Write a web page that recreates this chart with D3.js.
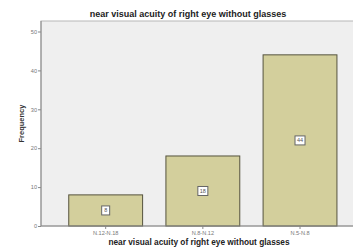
<!DOCTYPE html>
<meta charset="utf-8">
<style>
body {
  margin: 0;
  background: #fff;
  font-family: Arial, "Liberation Sans", sans-serif;
}
.bar {
  fill: #d3cf9c;
  stroke: #55533e;
  stroke-width: 1;
}
.tick text {
  fill: #777;
  font-size: 5.6px;
}
.tick line, .domain {
  stroke: #888;
}
</style>
<body>
<script src="https://cdn.jsdelivr.net/npm/d3@7"></script>
<script>

var categories = ["N.12-N.18", "N.8-N.12", "N.5-N.8"];
var counts = [8, 18, 44];
var yTicks = [0, 10, 20, 30, 40, 50];

var width = 353,
    height = 247;

var mLeft = 41, mTop = 21, mRight = 353, mBottom = 226;

var svg = d3.select("body").append("svg")
    .attr("width", width)
    .attr("height", height);

var x = d3.scaleBand()
    .domain(categories)
    .range([mLeft, 350])
    .paddingInner(0.24)
    .paddingOuter(0.21)
    .align(0.68);

var y = d3.scaleLinear()
    .domain([0, 50])
    .range([mBottom, 31.5]);

// plot background
svg.append("rect")
    .attr("x", mLeft)
    .attr("y", mTop)
    .attr("width", mRight - mLeft + 2)
    .attr("height", mBottom - mTop)
    .attr("fill", "#efefef")
    .attr("stroke", "#b8b8b8")
    .attr("stroke-width", 1);

svg.selectAll(".bar")
    .data(counts)
  .enter().append("rect")
    .attr("class", "bar")
    .attr("x", function(d, i) { return x(categories[i]); })
    .attr("y", function(d) { return y(d); })
    .attr("width", x.bandwidth())
    .attr("height", function(d) { return y(0) - y(d); });

// value labels in little boxes
var lab = svg.selectAll(".lab")
    .data(counts)
  .enter().append("g")
    .attr("transform", function(d, i) {
      return "translate(" + (x(categories[i]) + x.bandwidth() / 2) + "," + ((y(d) + y(0)) / 2) + ")";
    });

lab.append("rect")
    .attr("x", function(d) { return d < 10 ? -4 : -5; })
    .attr("y", -4.5)
    .attr("width", function(d) { return d < 10 ? 8 : 10; })
    .attr("height", 9)
    .attr("fill", "#fff")
    .attr("stroke", "#666")
    .attr("stroke-width", 1);

lab.append("text")
    .attr("text-anchor", "middle")
    .attr("dy", "0.35em")
    .attr("font-size", 5.5)
    .attr("fill", "#555")
    .text(function(d) { return d; });

// axes
svg.append("g")
    .attr("transform", "translate(" + mLeft + ",0)")
    .call(d3.axisLeft(y).tickValues(yTicks).tickSize(3).tickPadding(1))
    .call(function(g) { g.select(".domain").remove(); });

svg.append("line")
    .attr("x1", mLeft).attr("x2", mLeft)
    .attr("y1", mTop).attr("y2", mBottom)
    .attr("stroke", "#888");

svg.append("g")
    .attr("transform", "translate(0," + mBottom + ")")
    .call(d3.axisBottom(x).tickSize(3).tickPadding(2))
    .call(function(g) { g.select(".domain").attr("d", "M" + mLeft + ",0H" + mRight); });

svg.append("text")
    .attr("x", 188)
    .attr("y", 17)
    .attr("text-anchor", "middle")
    .attr("font-size", 9)
    .attr("font-weight", "bold")
    .attr("fill", "#222")
    .text("near visual acuity of right eye without glasses");

svg.append("text")
    .attr("x", 199)
    .attr("y", 245)
    .attr("text-anchor", "middle")
    .attr("font-size", 8.3)
    .attr("font-weight", "bold")
    .attr("fill", "#222")
    .text("near visual acuity of right eye without glasses");

svg.append("text")
    .attr("transform", "translate(24," + ((mTop + mBottom) / 2) + ") rotate(-90)")
    .attr("text-anchor", "middle")
    .attr("font-size", 7.5)
    .attr("font-weight", "bold")
    .attr("fill", "#333")
    .text("Frequency");

</script>
